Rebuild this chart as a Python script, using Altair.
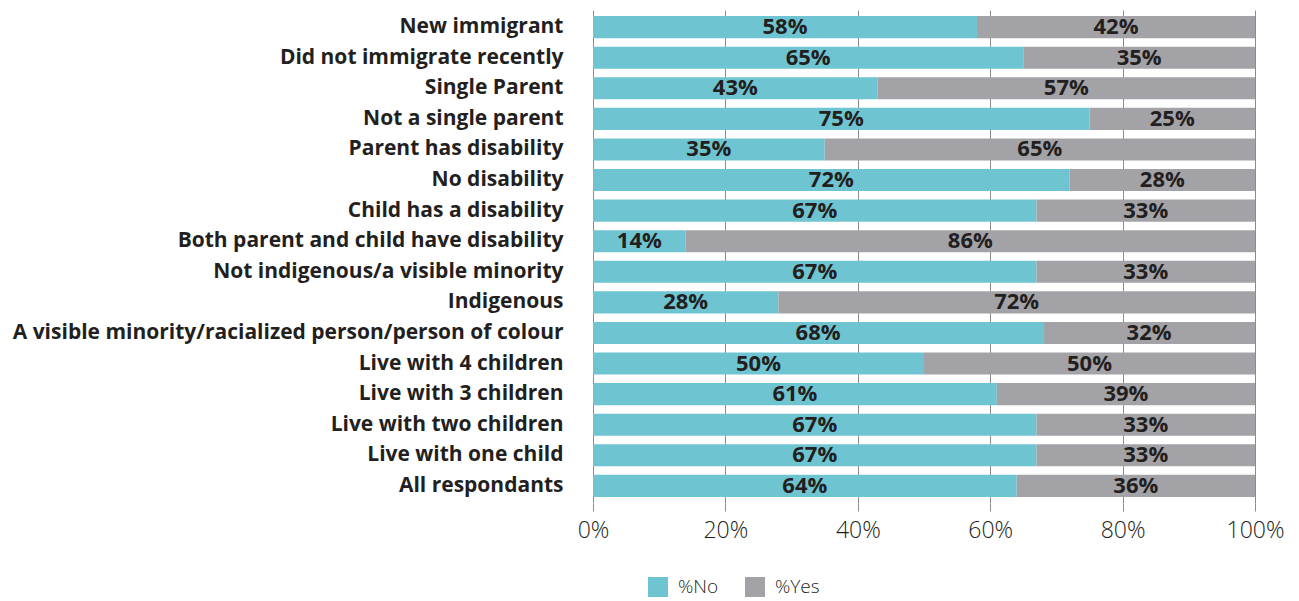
import altair as alt
import pandas as pd

categories = [
    "New immigrant",
    "Did not immigrate recently",
    "Single Parent",
    "Not a single parent",
    "Parent has disability",
    "No disability",
    "Child has a disability",
    "Both parent and child have disability",
    "Not indigenous/a visible minority",
    "Indigenous",
    "A visible minority/racialized person/person of colour",
    "Live with 4 children",
    "Live with 3 children",
    "Live with two children",
    "Live with one child",
    "All respondants",
]
pct_no = [58, 65, 43, 75, 35, 72, 67, 14, 67, 28, 68, 50, 61, 67, 67, 64]
pct_yes = [42, 35, 57, 25, 65, 28, 33, 86, 33, 72, 32, 50, 39, 33, 33, 36]
series = ["%No", "%Yes"]
colors = ["#6EC5D1", "#A3A3A7"]
x_ticks = [0, 20, 40, 60, 80, 100]

rows = []
for c, n, y in zip(categories, pct_no, pct_yes):
    rows.append({"cat": c, "series": "%No", "value": n, "start": 0, "end": n,
                 "mid": n / 2, "label": f"{n}%"})
    rows.append({"cat": c, "series": "%Yes", "value": y, "start": n, "end": n + y,
                 "mid": n + y / 2, "label": f"{y}%"})
df = pd.DataFrame(rows)

y_enc = alt.Y("cat:N", sort=categories, title=None,
              scale=alt.Scale(paddingInner=0.28, paddingOuter=0.2),
              axis=alt.Axis(labelFont="Open Sans", labelFontWeight="bold",
                            labelFontSize=21, labelColor="#231F20",
                            labelPadding=30, ticks=False, domain=False,
                            labelLimit=700))

bars = alt.Chart(df).mark_bar().encode(
    x=alt.X("start:Q", title=None,
            scale=alt.Scale(domain=[0, 100], nice=False),
            axis=alt.Axis(values=x_ticks, labelExpr="datum.value + '%'",
                          labelFont="Open Sans", labelFontSize=23,
                          labelFontWeight=300, labelFlush=False,
                          labelColor="#231F20", labelPadding=8,
                          grid=True, gridColor="#8C8C8C", gridWidth=1,
                          tickColor="#8C8C8C", tickSize=8, domain=False)),
    x2="end:Q",
    y=y_enc,
    color=alt.Color("series:N", scale=alt.Scale(domain=series, range=colors),
                    legend=alt.Legend(title=None, orient="none", legendX=55,
                                      legendY=567, direction="horizontal",
                                      symbolType="square", symbolSize=400,
                                      symbolStrokeWidth=0,
                                      labelFont="Open Sans", labelFontSize=19,
                                      labelFontWeight=300,
                                      labelColor="#231F20", columnPadding=26,
                                      labelOffset=10)),
)

text = alt.Chart(df).mark_text(font="Open Sans", fontWeight="bold",
                               fontSize=22, color="#231F20").encode(
    x=alt.X("mid:Q"),
    y=alt.Y("cat:N", sort=categories),
    text="label:N",
)

chart = (bars + text).properties(
    width=662, height=493,
    autosize=alt.AutoSizeParams(type="none"),
    padding={"left": 585, "top": 2, "right": 36, "bottom": 95},
).configure_view(stroke=None)

chart.save("out.html", embed_options={"renderer": "svg", "actions": False})
